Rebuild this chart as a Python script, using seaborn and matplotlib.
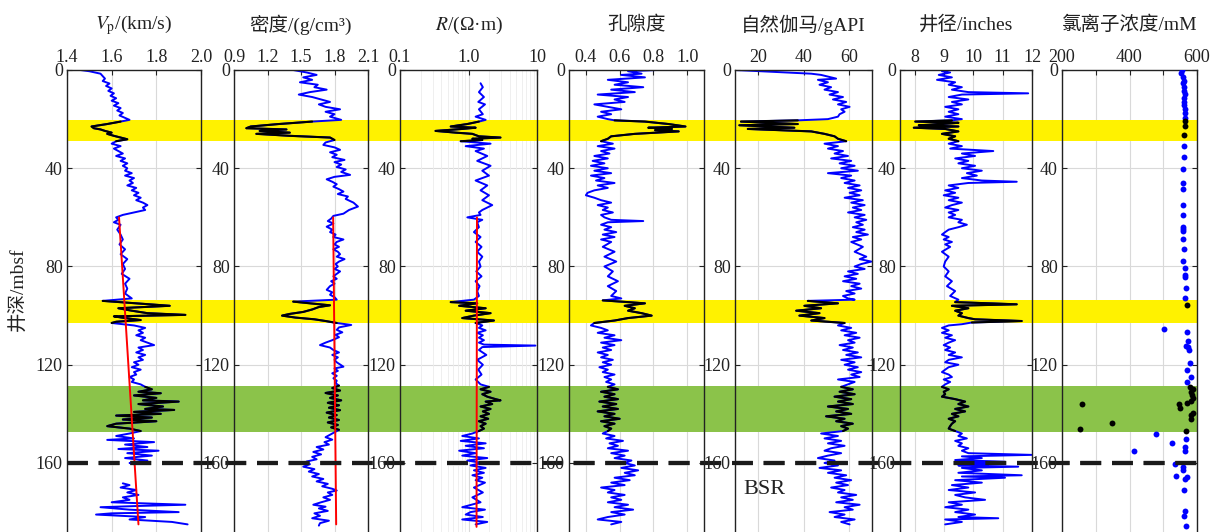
import numpy as np
import matplotlib
matplotlib.use("Agg")
import matplotlib.pyplot as plt
from matplotlib.ticker import FixedLocator, LogLocator, NullFormatter
import seaborn as sns

# ---------------- data ----------------
# depth in mbsf, value in panel units

vp_depth = [0, 0.5, 1.5, 2.5, 3.5, 4.5, 5.5, 6.5, 7.5, 8.5,
            9.5, 10.5, 11.5, 12.5, 13.5, 14.5, 15.5, 16.5, 17.5, 18.5,
            19.5, 20.3, 21, 22, 23, 23.7, 24.2, 24.8, 25.5, 26,
            26.8, 27.5, 28.2, 29, 30, 31, 32, 33, 34, 35,
            36, 37, 38, 39, 40, 41, 42, 43, 44, 45,
            46, 47, 48, 49, 50, 51, 52, 53, 54, 55,
            56, 57, 58, 59, 60, 61, 62, 63, 65, 67,
            69, 71, 73, 75, 77, 79, 81, 83, 85, 87,
            89, 91, 93, 94, 95, 96, 97, 98, 99, 99.7,
            100.3, 101, 101.8, 102.5, 103, 104, 105, 106, 107, 108,
            109, 110, 111, 112, 113, 114, 115, 116, 117, 118,
            119, 120, 121, 122, 123, 124, 125, 126, 127, 128,
            129, 130, 131, 131.6, 132.5, 133.5, 134.5, 135, 136, 137,
            138, 138.4, 139.2, 140, 140.7, 141.5, 142.3, 143, 144, 145,
            146, 147, 148, 149, 150, 150.6, 151.5, 152.5, 153.5, 154.3,
            155, 156, 157, 158, 159, 160, 160.5, 164, 168.3, 169,
            170, 171, 172, 173, 174, 175, 176, 177, 177.5, 178,
            179, 180, 180.5, 181, 182, 183, 184, 185]
vp_value = [1.46, 1.50, 1.55, 1.56, 1.57, 1.56, 1.59, 1.575, 1.60, 1.585,
            1.61, 1.595, 1.62, 1.60, 1.63, 1.61, 1.64, 1.625, 1.65, 1.635,
            1.66, 1.68, 1.64, 1.58, 1.51, 1.52, 1.55, 1.57, 1.60, 1.58,
            1.61, 1.64, 1.67, 1.62, 1.60, 1.64, 1.61, 1.63, 1.65, 1.62,
            1.66, 1.64, 1.67, 1.65, 1.67, 1.66, 1.69, 1.66, 1.70, 1.68,
            1.695, 1.67, 1.71, 1.69, 1.72, 1.70, 1.73, 1.71, 1.74, 1.76,
            1.74, 1.75, 1.70, 1.65, 1.62, 1.63, 1.61, 1.64, 1.625, 1.64,
            1.65, 1.635, 1.66, 1.64, 1.67, 1.65, 1.66, 1.645, 1.68, 1.66,
            1.67, 1.66, 1.69, 1.56, 1.71, 1.86, 1.63, 1.69, 1.76, 1.93,
            1.61, 1.66, 1.73, 1.62, 1.60, 1.70, 1.75, 1.72, 1.74, 1.71,
            1.75, 1.73, 1.76, 1.79, 1.72, 1.74, 1.71, 1.75, 1.72, 1.74,
            1.70, 1.72, 1.69, 1.73, 1.70, 1.71, 1.68, 1.70, 1.69, 1.73,
            1.75, 1.78, 1.72, 1.82, 1.70, 1.80, 1.74, 1.90, 1.72, 1.83,
            1.75, 1.88, 1.70, 1.82, 1.62, 1.78, 1.65, 1.80, 1.62, 1.58,
            1.68, 1.73, 1.68, 1.62, 1.70, 1.58, 1.79, 1.66, 1.76, 1.63,
            1.81, 1.67, 1.78, 1.66, 1.76, 1.68, 1.70, np.nan, 1.65, 1.68,
            1.64, 1.71, 1.67, 1.72, 1.65, 1.68, 1.60, 1.93, 1.72, 1.55,
            1.68, 1.90, 1.60, 1.53, 1.75, 1.68, 1.87, 1.94]
vp_trend_depth = [60, 185]
vp_trend_value = [1.633, 1.72]

den_depth = [0, 1, 2, 3, 4, 5, 6, 7, 8, 9,
             10, 11, 12, 13, 14, 15, 16, 17, 18, 19,
             20.3, 21, 22, 23, 23.7, 24.2, 24.8, 25.5, 26, 26.8,
             27.5, 28.5, 29.5, 30.5, 31.5, 32.5, 33.5, 34.5, 35.5, 36.6,
             37.5, 38.5, 39.5, 40.5, 41.5, 42.7, 43.5, 44.5, 45.5, 46.5,
             47.5, 48.5, 49.5, 50.5, 51.5, 52.5, 54, 55.6, 57, 58.5,
             59.4, 60.5, 61.5, 62.5, 63.8, 65, 66, 67, 68, 69,
             70, 71, 72, 73, 74, 75, 76, 77, 78, 79,
             80, 81, 82, 83, 84, 85, 86, 87, 88, 89.5,
             90.5, 91.5, 92.5, 93.5, 94.3, 95, 95.8, 96.5, 97.5, 98.5,
             99.3, 100, 100.8, 101.5, 102.2, 103, 103.8, 104.8, 105.8, 106.8,
             107.8, 108.8, 110, 111, 112, 113, 114, 115, 116, 117,
             118, 119, 120.8, 121.5, 122.5, 123.5, 124.5, 125.5, 126.5, 127.5,
             128.5, 129.5, 130.5, 131.5, 132.5, 133.5, 134.5, 135.5, 136.5, 137.5,
             138.5, 139.5, 140.5, 141.5, 142.5, 143.5, 144.5, 145.5, 146.5, 147.5,
             148.5, 149.5, 150.5, 151.5, 152.5, 153.5, 154.5, 155.5, 156.5, 157.5,
             158.5, 159.4, 160.5, 161.5, 162.5, 163.5, 164.5, 165.5, 166.5, 167.5,
             168.5, 169.5, 170.5, 171.2, 172, 173, 174, 175, 176, 177,
             177.8, 178.5, 179.5, 180.5, 181.5, 182.5, 183.5, 184.5, 185.5]
den_value = [1.43, 1.55, 1.64, 1.52, 1.60, 1.49, 1.65, 1.62, 1.73, 1.58,
             1.48, 1.60, 1.68, 1.76, 1.66, 1.72, 1.85, 1.72, 1.80, 1.76,
             1.86, 1.60, 1.30, 1.05, 1.01, 1.37, 1.13, 1.40, 1.10, 1.40,
             1.76, 1.80, 1.72, 1.70, 1.80, 1.85, 1.76, 1.82, 1.78, 1.89,
             1.80, 1.86, 1.82, 1.90, 1.86, 1.94, 1.80, 1.73, 1.78, 1.82,
             1.79, 1.84, 1.88, 1.83, 1.92, 1.90, 1.97, 2.01, 1.93, 1.88,
             1.79, 1.77, 1.74, 1.79, 1.73, 1.78, 1.76, 1.81, 1.79, 1.88,
             1.82, 1.80, 1.84, 1.79, 1.83, 1.85, 1.82, 1.89, 1.84, 1.81,
             1.83, 1.80, 1.85, 1.82, 1.79, 1.82, 1.77, 1.80, 1.76, 1.73,
             1.78, 1.76, 1.80, 1.82, 1.43, 1.58, 1.76, 1.66, 1.60, 1.52,
             1.40, 1.33, 1.45, 1.62, 1.72, 1.82, 1.95, 1.84, 1.82, 1.87,
             1.81, 1.84, 1.78, 1.72, 1.67, 1.76, 1.79, 1.84, 1.78, 1.83,
             1.80, 1.82, 1.88, 1.80, 1.83, 1.78, 1.82, 1.79, 1.82, 1.81,
             1.84, 1.78, 1.85, 1.72, 1.83, 1.76, 1.86, 1.74, 1.84, 1.75,
             1.85, 1.73, 1.82, 1.75, 1.84, 1.74, 1.83, 1.77, 1.84, 1.80,
             1.76, 1.72, 1.78, 1.71, 1.75, 1.64, 1.70, 1.61, 1.68, 1.60,
             1.64, 1.55, 1.58, 1.52, 1.62, 1.57, 1.66, 1.60, 1.70, 1.64,
             1.74, 1.69, 1.78, 1.82, 1.74, 1.78, 1.70, 1.76, 1.68, 1.61,
             1.72, 1.66, 1.74, 1.62, 1.67, 1.60, 1.75, 1.67, 1.66]
den_trend_depth = [60, 185]
den_trend_value = [1.788, 1.815]

res_depth = [5.4, 7, 9, 11, 13, 14, 16, 18, 19, 20.3,
             21, 22, 23, 23.5, 24, 24.8, 25.5, 26, 27, 27.5,
             28, 28.5, 29, 30, 31, 32, 33, 35, 37, 39,
             41, 43, 45, 47, 49, 51, 53, 55, 56, 57,
             58, 59, 60, 61, 62, 64, 66, 68, 70, 72,
             74, 76, 78, 80, 82, 84, 86, 88, 90, 92,
             93.5, 94.5, 95, 96, 97, 98, 99, 100, 101, 102,
             103, 104, 105, 106, 107, 108, 109, 110, 111, 111.8,
             112.2, 112.8, 114, 116, 118, 120, 122, 124, 126, 128,
             129, 130, 131, 132, 133, 134, 134.5, 135, 136, 137,
             138, 139, 140, 141, 142, 143, 144, 145, 146, 147,
             148, 149, 150, 151, 152, 153, 154, 155, 156, 157,
             158, 159, 160, 161, 162, 163, 164, 165, 166, 167,
             168, 170, 172, 174, 176, 178, 179, 180, 181, 182,
             183, 184, 185]
res_value = [1.50, 1.62, 1.42, 1.68, 1.39, 1.74, 1.42, 1.62, 1.27, 1.78,
             1.42, 0.96, 0.55, 1.27, 0.81, 0.33, 0.65, 1.14, 1.42, 2.93,
             1.14, 1.59, 0.77, 2.10, 0.91, 1.68, 1.27, 1.88, 1.34, 2.10,
             1.59, 1.99, 1.27, 1.88, 1.50, 1.99, 1.59, 2.22, 1.88, 1.59,
             1.42, 1.50, 0.96, 1.59, 1.34, 1.42, 1.20, 1.50, 1.27, 1.55,
             1.34, 1.59, 1.42, 1.50, 1.30, 1.55, 1.27, 1.45, 1.34, 1.42,
             1.20, 0.55, 1.34, 0.73, 1.78, 0.91, 2.10, 1.20, 0.81, 2.35,
             1.27, 1.59, 1.42, 1.78, 1.34, 1.62, 1.42, 1.68, 1.42, 1.68,
             9.5, 1.59, 1.42, 1.82, 1.34, 1.62, 1.39, 1.55, 1.27, 1.50,
             1.99, 1.50, 2.10, 1.59, 1.88, 2.48, 2.93, 1.78, 2.22, 1.50,
             2.10, 1.62, 1.99, 1.50, 1.94, 1.42, 1.78, 1.50, 1.68, 1.42,
             1.14, 0.81, 1.42, 0.77, 1.78, 0.91, 1.68, 0.73, 1.27, 0.81,
             1.88, 0.96, 1.59, 1.07, 1.78, 1.20, 1.68, 1.14, 1.59, 1.27,
             1.74, 1.20, 1.62, 1.14, 1.50, 0.81, 1.74, 1.07, 0.91, 1.62,
             0.81, 1.88, 1.27]
res_trend_depth = [60, 186]
res_trend_value = [1.33, 1.31]

por_depth = [0, 0.5, 1.5, 2, 3, 4, 5, 6, 7, 8,
             9, 10, 11, 12, 13, 14, 15, 16, 17, 18,
             19, 20, 20.5, 21, 22, 23, 23.5, 24, 24.5, 25,
             26, 27, 28, 29, 30, 31, 32, 33, 34, 35,
             36, 37, 38, 39, 40, 41, 42, 43, 44, 45,
             46, 47, 48, 49, 50, 51, 52, 53, 54, 55,
             56, 57, 58, 59, 60, 61, 61.5, 62, 63, 64,
             65, 66, 67, 68, 69, 70, 72, 74, 76, 78,
             80, 82, 84, 86, 88, 90, 92, 93, 93.8, 94.5,
             95, 96, 97, 98, 99, 100, 101, 102, 103, 104,
             105, 106, 107, 108, 109, 110, 111, 112, 113, 114,
             115, 116, 117, 118, 119, 120, 121, 122, 123, 124,
             125, 126, 127, 128, 129, 130, 131, 132, 133, 134,
             135, 136, 137, 138, 139, 140, 141, 142, 143, 144,
             145, 146, 147, 148, 149, 150, 151, 152, 153, 154,
             155, 156, 157, 158, 159, 160, 161, 162, 163, 164,
             165, 166, 167, 168, 169, 170, 171, 172, 173, 174,
             175, 176, 177, 178, 179, 180, 181, 182, 183, 184, 185]
por_value = [0.82, 0.65, 0.73, 0.61, 0.75, 0.53, 0.65, 0.57, 0.74, 0.55,
             0.69, 0.47, 0.65, 0.57, 0.63, 0.45, 0.53, 0.61, 0.49, 0.55,
             0.47, 0.53, 0.57, 0.75, 0.89, 0.99, 0.77, 0.91, 0.81, 0.95,
             0.69, 0.55, 0.53, 0.49, 0.56, 0.47, 0.57, 0.49, 0.54, 0.45,
             0.53, 0.44, 0.51, 0.43, 0.53, 0.45, 0.55, 0.43, 0.51, 0.46,
             0.57, 0.47, 0.53, 0.45, 0.41, 0.40, 0.45, 0.49, 0.55, 0.47,
             0.53, 0.50, 0.56, 0.49, 0.51, 0.55, 0.74, 0.53, 0.49, 0.55,
             0.51, 0.58, 0.50, 0.57, 0.49, 0.55, 0.50, 0.57, 0.51, 0.58,
             0.51, 0.56, 0.53, 0.59, 0.53, 0.58, 0.55, 0.61, 0.50, 0.65,
             0.75, 0.63, 0.69, 0.65, 0.73, 0.79, 0.65, 0.57, 0.45, 0.43,
             0.49, 0.53, 0.47, 0.57, 0.51, 0.61, 0.49, 0.57, 0.50, 0.55,
             0.47, 0.53, 0.49, 0.56, 0.50, 0.55, 0.48, 0.53, 0.50, 0.57,
             0.51, 0.55, 0.52, 0.57, 0.53, 0.59, 0.49, 0.57, 0.51, 0.59,
             0.48, 0.58, 0.50, 0.59, 0.47, 0.57, 0.51, 0.60, 0.49, 0.57,
             0.51, 0.55, 0.53, 0.50, 0.57, 0.52, 0.62, 0.54, 0.59, 0.53,
             0.65, 0.55, 0.63, 0.57, 0.67, 0.63, 0.69, 0.61, 0.71, 0.63,
             0.69, 0.57, 0.66, 0.55, 0.63, 0.49, 0.57, 0.53, 0.63, 0.55,
             0.61, 0.53, 0.65, 0.57, 0.68, 0.55, 0.63, 0.53, 0.47, 0.61, 0.55]

gr_depth = [0, 0.5, 1, 1.5, 2, 3, 3.5, 4, 5, 6,
            7, 8, 9, 10, 11, 12, 13, 14, 15, 16,
            17, 18, 19, 20, 20.5, 21, 22, 22.5, 23.5, 24,
            25, 26, 27, 28, 29, 30, 31, 32, 33, 34,
            35, 36, 37, 38, 39, 40, 41, 42, 43, 44,
            45, 46, 47, 48, 49, 50, 51, 52, 53, 54,
            55, 56, 57, 58, 59, 60, 61, 62, 63, 64,
            65, 66, 67, 68, 69, 70, 72, 74, 76, 77,
            78, 79, 80, 81, 82, 83, 84, 85, 86, 87,
            88, 89, 90, 91, 92, 93, 93.5, 94, 95, 96,
            97, 98, 99, 100, 101, 102, 103, 104, 105, 106,
            107, 108, 109, 110, 111, 112, 113, 114, 115, 116,
            117, 118, 119, 120, 121, 122, 123, 124, 125, 126,
            127, 128, 129, 130, 131, 132, 133, 134, 135, 136,
            137, 138, 139, 140, 141, 142, 143, 144, 145, 146,
            147, 148, 149, 150, 151, 152, 153, 154, 155, 156,
            157, 158, 159, 160, 161, 162, 163, 164, 165, 166,
            167, 168, 169, 170, 171, 172, 173, 174, 175, 176,
            177, 178, 179, 180, 181, 182, 183, 184, 185]
gr_value = [10.0, 21.4, 33.1, 43.4, 47.7, 52.1, 54.3, 46.3, 50.7, 47.0,
            52.1, 49.2, 55.1, 51.4, 57.3, 52.9, 58.7, 55.1, 60.2, 56.5,
            58.0, 55.8, 55.1, 50.7, 37.5, 12.6, 37.5, 11.9, 36.0, 15.6,
            43.4, 49.2, 53.6, 55.1, 58.7, 49.2, 55.1, 50.7, 57.3, 53.6,
            59.5, 52.1, 60.9, 55.8, 62.4, 56.5, 63.8, 50.7, 60.9, 56.5,
            62.4, 58.0, 64.6, 59.5, 65.3, 60.2, 64.6, 58.0, 66.0, 60.9,
            66.8, 61.6, 65.3, 59.5, 66.8, 62.4, 67.5, 63.1, 66.0, 61.6,
            66.8, 63.1, 68.2, 61.6, 65.3, 60.9, 66.0, 62.4, 67.5, 64.6,
            69.7, 65.3, 62.4, 66.8, 59.5, 63.8, 58.0, 63.1, 57.3, 64.6,
            60.9, 65.3, 58.7, 62.4, 57.3, 59.5, 62.4, 41.9, 55.1, 40.4,
            47.7, 36.8, 47.0, 38.2, 49.2, 43.4, 58.0, 55.1, 60.9, 56.5,
            63.1, 58.0, 64.6, 59.5, 62.4, 55.8, 61.6, 57.3, 63.8, 58.7,
            65.3, 56.5, 62.4, 58.0, 63.8, 59.5, 65.3, 60.9, 64.6, 55.1,
            62.4, 59.5, 56.5, 61.6, 55.8, 62.4, 53.6, 60.9, 55.1, 61.6,
            50.7, 59.5, 54.3, 60.9, 49.9, 58.0, 54.3, 61.6, 56.5, 59.5,
            57.3, 47.7, 55.1, 49.2, 56.5, 50.7, 58.0, 52.1, 49.2, 56.5,
            50.7, 46.3, 53.6, 49.2, 55.1, 47.0, 56.5, 50.7, 58.7, 53.6,
            60.9, 54.3, 59.5, 52.1, 58.0, 55.1, 63.1, 56.5, 61.6, 54.3,
            64.6, 58.0, 61.6, 51.4, 58.0, 53.6, 62.4, 56.5, 60.2]

cal_depth = [0, 0.5, 1, 2, 3, 4, 5, 6, 7, 8,
             9, 9.5, 10, 11, 12, 13, 14, 15, 16, 17,
             18, 19, 20, 20.5, 21, 21.5, 22, 22.5, 23, 23.5,
             24, 25, 26, 27, 28, 29, 30, 31, 32, 33,
             34, 35, 36, 37, 38, 39, 40, 41, 42, 43,
             44, 45, 45.5, 46, 47, 48, 49, 50, 51, 52,
             53, 54, 55, 56, 57, 58, 59, 60, 61, 62,
             63, 64, 65, 66, 67, 68, 69, 70, 71, 72,
             74, 76, 78, 80, 82, 84, 86, 88, 90, 92,
             93.5, 94.5, 95.4, 96, 97, 98, 99, 100, 101, 101.5,
             102.2, 102.8, 103.5, 104, 105, 106, 107, 108, 109, 110,
             111, 112, 113, 114, 115, 116, 117, 118, 119, 120,
             121, 122, 123, 124, 125, 126, 127, 128, 129, 130,
             131, 132, 133, 134, 135, 136, 137, 138, 139, 140,
             141, 142, 143, 144, 145, 146, 147, 148, 149, 150,
             151, 152, 153, 154, 155, 156, 156.7, 157.3, 158, 158.8,
             159.5, 160, 160.5, 161, 161.5, 162, 163, 164, 165, 165.5,
             166, 167, 168, 169, 170, 171, 172, 173, 174, 175,
             176, 177, 178, 179, 180, 181, 182, 182.5, 183, 184, 185]
cal_value = [9.16, 8.93, 9.21, 8.82, 9.27, 8.76, 9.38, 9.16, 9.61, 9.27,
             9.83, 11.87, 9.61, 9.16, 9.83, 9.27, 9.61, 9.04, 9.49, 9.16,
             9.49, 9.04, 9.61, 9.27, 8.02, 9.49, 8.93, 8.14, 9.49, 7.97,
             9.04, 9.49, 8.93, 9.38, 9.16, 9.49, 9.16, 9.61, 9.21, 10.68,
             9.61, 10.06, 9.38, 9.83, 9.49, 10.06, 9.61, 10.29, 9.78, 10.12,
             9.61, 10.29, 11.48, 9.83, 9.16, 9.49, 9.04, 9.38, 8.99, 9.49,
             9.16, 9.61, 9.27, 9.04, 9.49, 9.16, 9.38, 9.16, 9.61, 9.49,
             9.78, 9.49, 9.16, 9.04, 8.93, 9.16, 8.99, 9.27, 9.04, 9.21,
             8.93, 9.16, 9.04, 8.99, 9.16, 9.04, 9.27, 9.10, 9.38, 9.21,
             9.49, 9.38, 11.48, 9.27, 9.83, 9.38, 9.61, 9.49, 9.83, 10.06,
             11.65, 9.95, 9.61, 9.16, 8.93, 9.16, 8.93, 9.27, 9.04, 9.38,
             9.16, 8.99, 9.21, 9.04, 9.38, 9.16, 9.61, 9.16, 9.04, 9.49,
             9.16, 9.04, 8.93, 9.16, 9.27, 8.99, 9.21, 9.04, 8.93, 9.16,
             8.99, 9.04, 8.93, 9.38, 9.72, 9.49, 9.83, 9.38, 9.72, 9.27,
             9.49, 9.16, 9.38, 9.27, 9.21, 9.16, 9.38, 9.61, 9.49, 9.78,
             9.38, 9.61, 9.49, 9.83, 9.61, 9.83, 11.99, 9.61, 10.29, 9.38,
             11.08, 9.61, 10.51, 9.49, 11.53, 9.61, 10.29, 9.49, 11.65, 9.61,
             11.08, 9.38, 10.29, 9.27, 9.83, 9.16, 10.06, 9.38, 9.72, 10.40,
             9.16, 9.61, 9.04, 9.83, 9.38, 10.06, 9.49, 10.85, 9.04, 9.61, 9.04]

cl_depth = [0, 1.4, 3.0, 4.3, 5.4, 7.1, 8.6, 9.9, 11.5, 12.9,
            14.3, 16.0, 17.6, 19.7, 20.8, 22.8, 26.5, 30.9, 35.6, 40.2,
            45.9, 48.4, 55.1, 59.0, 63.8, 64.9, 65.4, 68.8, 72.7, 77.8,
            80.5, 83.5, 84.4, 88.6, 92.7, 95.8, 105.3, 106.7, 110.3, 112.4,
            112.8, 114.0, 119.4, 122.2, 125.1, 126.9, 129.2, 129.7, 131.0, 132.2,
            133.7, 134.6, 135.7, 136.0, 136.1, 137.8, 139.5, 140.5, 142.2, 143.7,
            146.2, 147.1, 148.2, 150.4, 151.7, 153.4, 155.0, 155.1, 160.6, 161.8,
            162.9, 165.2, 165.6, 166.7, 171.0, 179.4, 181.4, 185.5]
cl_value = [555.6, 553.6, 557.5, 560.5, 558.5, 562.5, 560.5, 563.5, 560.5, 561.5,
            562.5, 564.5, 563.5, 564.5, 564.5, 564.5, 561.5, 560.5, 560.5, 559.5,
            558.5, 557.5, 557.5, 558.5, 559.5, 558.5, 558.5, 558.5, 560.5, 558.5,
            563.5, 563.5, 564.5, 566.4, 564.5, 571.4, 501.2, 570.4, 573.4, 567.4,
            573.4, 576.3, 580.3, 570.4, 582.2, 569.4, 580.3, 588.2, 582.2, 585.2,
            589.2, 583.2, 570.4, 259.3, 547.7, 550.6, 588.2, 582.2, 582.2, 348.2,
            252.3, 568.4, 479.5, 567.4, 525.0, 565.5, 564.5, 412.4, 533.8, 558.5,
            557.5, 536.8, 570.4, 563.5, 560.5, 564.5, 561.5, 566.4]

yellow_bands = [(20.4, 29.0), (93.6, 103.0)]
green_band = (128.5, 147.2)
bsr_depth = 160
depth_max = 188.1

titles = [r"$V_{\mathrm{p}}$/(km/s)", "密度/(g/cm³)", r"$R$/(Ω·m)", "孔隙度",
          "自然伽马/gAPI", "井径/inches", "氯离子浓度/mM"]

# ---------------- style ----------------
sns.set_theme(style="white")
plt.rcParams["font.family"] = ["Liberation Serif", "Noto Sans CJK SC", "DejaVu Sans"]
plt.rcParams["mathtext.fontset"] = "stix"

BLUE = "#0000ff"
YELLOW = "#fff200"
GREEN = "#8bc34a"
GRID = "#d9d9d9"
INK = "#222222"
DASH_LW = 3.0
DASH = (5, 2.6)
all_bands = yellow_bands + [green_band]

W, H = 1212, 532
fig = plt.figure(figsize=(W / 100, H / 100), dpi=100)

left_px = [67, 234, 400, 569, 735, 900, 1062]
right_px = [201, 368, 537, 704, 872, 1032, 1197]
top_px = 70
ax_h = (H - top_px) / H

# background strip carrying the bands and the BSR line across the gaps
bg = fig.add_axes([left_px[0] / W, 0, (right_px[-1] - left_px[0]) / W, ax_h], zorder=0)
bg.set_xlim(0, 1)
bg.set_ylim(depth_max, 0)
for a, b in yellow_bands:
    bg.axhspan(a, b, color=YELLOW, lw=0)
bg.axhspan(*green_band, color=GREEN, lw=0)
bg.axhline(bsr_depth, color="#1a1a1a", lw=DASH_LW, ls=(0, DASH))
bg.axis("off")


def pieces(dep, val):
    dep = np.asarray(dep, float)
    val = np.asarray(val, float)
    ok = ~np.isnan(val)
    out, start = [], None
    for i, flag in enumerate(ok):
        if flag and start is None:
            start = i
        if not flag and start is not None:
            out.append((dep[start:i], val[start:i]))
            start = None
    if start is not None:
        out.append((dep[start:], val[start:]))
    return out


def draw_log(ax, dep, val):
    for d, v in pieces(dep, val):
        sns.lineplot(x=v, y=d, sort=False, estimator=None, color=BLUE,
                     lw=1.4, ax=ax, zorder=2)
        for a, b in all_bands:
            m = (d >= a) & (d <= b)
            if m.sum() > 1:
                sns.lineplot(x=v[m], y=d[m], sort=False, estimator=None,
                             color="black", lw=1.5, ax=ax, zorder=3)


def draw_trend(ax, dep, val):
    sns.lineplot(x=val, y=dep, sort=False, estimator=None, color="red",
                 lw=1.4, ax=ax, zorder=4)


panels = [
    dict(xlim=(1.4, 2.0), ticks=[1.4, 1.6, 1.8, 2.0], labels=["1.4", "1.6", "1.8", "2.0"]),
    dict(xlim=(0.9, 2.1), ticks=[0.9, 1.2, 1.5, 1.8, 2.1], labels=["0.9", "1.2", "1.5", "1.8", "2.1"]),
    dict(xlim=(0.1, 10), ticks=[0.1, 1, 10], labels=["0.1", "1.0", "10"], log=True),
    dict(xlim=(0.3, 1.1), ticks=[0.4, 0.6, 0.8, 1.0], labels=["0.4", "0.6", "0.8", "1.0"]),
    dict(xlim=(10, 70), ticks=[20, 40, 60], labels=["20", "40", "60"]),
    dict(xlim=(7.5, 12), ticks=[8, 9, 10, 11, 12], labels=["8", "9", "10", "11", "12"]),
    dict(xlim=(200, 600), ticks=[200, 300, 400, 500, 600], labels=["200", "", "400", "", "600"]),
]

axes = []
for i, p in enumerate(panels):
    l, r = left_px[i], right_px[i]
    ax = fig.add_axes([l / W, 0, (r - l) / W, ax_h], zorder=2)
    ax.set_facecolor("none")
    ax.set_axisbelow(True)
    if p.get("log"):
        ax.set_xscale("log")
    ax.set_xlim(*p["xlim"])
    ax.set_ylim(depth_max, 0)
    # horizontal grid drawn by hand (the BSR dash sits at 160)
    for yg in [40, 80, 120]:
        ax.axhline(yg, color=GRID, lw=0.8, zorder=0.5)
    # bands inside the panel cover the grid like the original
    for a, b in yellow_bands:
        ax.axhspan(a, b, color=YELLOW, lw=0, zorder=0.8)
    ax.axhspan(*green_band, color=GREEN, lw=0, zorder=0.8)
    # BSR dash on top of the curves, phase matched with the background line
    offset = (l - left_px[0]) * 0.72 / DASH_LW
    ax.axhline(bsr_depth, color="#1a1a1a", lw=DASH_LW, ls=(offset, DASH), zorder=6)
    axes.append(ax)

draw_log(axes[0], vp_depth, vp_value)
draw_trend(axes[0], vp_trend_depth, vp_trend_value)
draw_log(axes[1], den_depth, den_value)
draw_trend(axes[1], den_trend_depth, den_trend_value)
draw_log(axes[2], res_depth, res_value)
draw_trend(axes[2], res_trend_depth, res_trend_value)
draw_log(axes[3], por_depth, por_value)
draw_log(axes[4], gr_depth, gr_value)
draw_log(axes[5], cal_depth, cal_value)

cl_d = np.array(cl_depth)
cl_v = np.array(cl_value)
in_band = np.zeros(len(cl_d), bool)
for a, b in all_bands:
    in_band |= (cl_d >= a) & (cl_d <= b)
sns.scatterplot(x=cl_v[~in_band], y=cl_d[~in_band], color=BLUE, s=18,
                linewidth=0, ax=axes[6], zorder=3)
sns.scatterplot(x=cl_v[in_band], y=cl_d[in_band], color="black", s=18,
                linewidth=0, ax=axes[6], zorder=3)

for i, (ax, p) in enumerate(zip(axes, panels)):
    ax.set_xlabel("")
    ax.set_ylabel("")
    ax.set_xlim(*p["xlim"])
    ax.set_ylim(depth_max, 0)
    ax.xaxis.set_major_locator(FixedLocator(p["ticks"]))
    ax.set_xticklabels(p["labels"])
    if p.get("log"):
        ax.xaxis.set_minor_locator(LogLocator(base=10, subs=np.arange(2, 10)))
        ax.xaxis.set_minor_formatter(NullFormatter())
        ax.grid(True, which="minor", axis="x", color="#ececec", lw=0.6)
        ax.tick_params(axis="x", which="minor", length=0)
    ax.set_yticks([0, 40, 80, 120, 160])
    ax.grid(True, which="major", axis="x", color=GRID, lw=0.8)
    ax.xaxis.tick_top()
    ax.tick_params(axis="both", which="major", direction="in", length=3.5, width=0.8,
                   colors=INK, labelcolor=INK, labelsize=13, pad=3,
                   top=True, bottom=False, left=True, right=True,
                   labeltop=True, labelbottom=False)
    for side in ["top", "left", "right"]:
        ax.spines[side].set_color(INK)
        ax.spines[side].set_linewidth(1.0)
        ax.spines[side].set_visible(True)
    ax.spines["bottom"].set_visible(False)
    fig.text((left_px[i] + right_px[i]) / 2 / W, 1 - 25 / H, titles[i],
             ha="center", va="center", fontsize=14, color=INK)

axes[4].text(23, 171, "BSR", fontsize=16, ha="center", va="center", color=INK)
fig.text(18 / W, 1 - 289 / H, "井深/mbsf", rotation=90, ha="center", va="center",
         fontsize=14, color=INK)

fig.savefig("out.png", dpi=100)
